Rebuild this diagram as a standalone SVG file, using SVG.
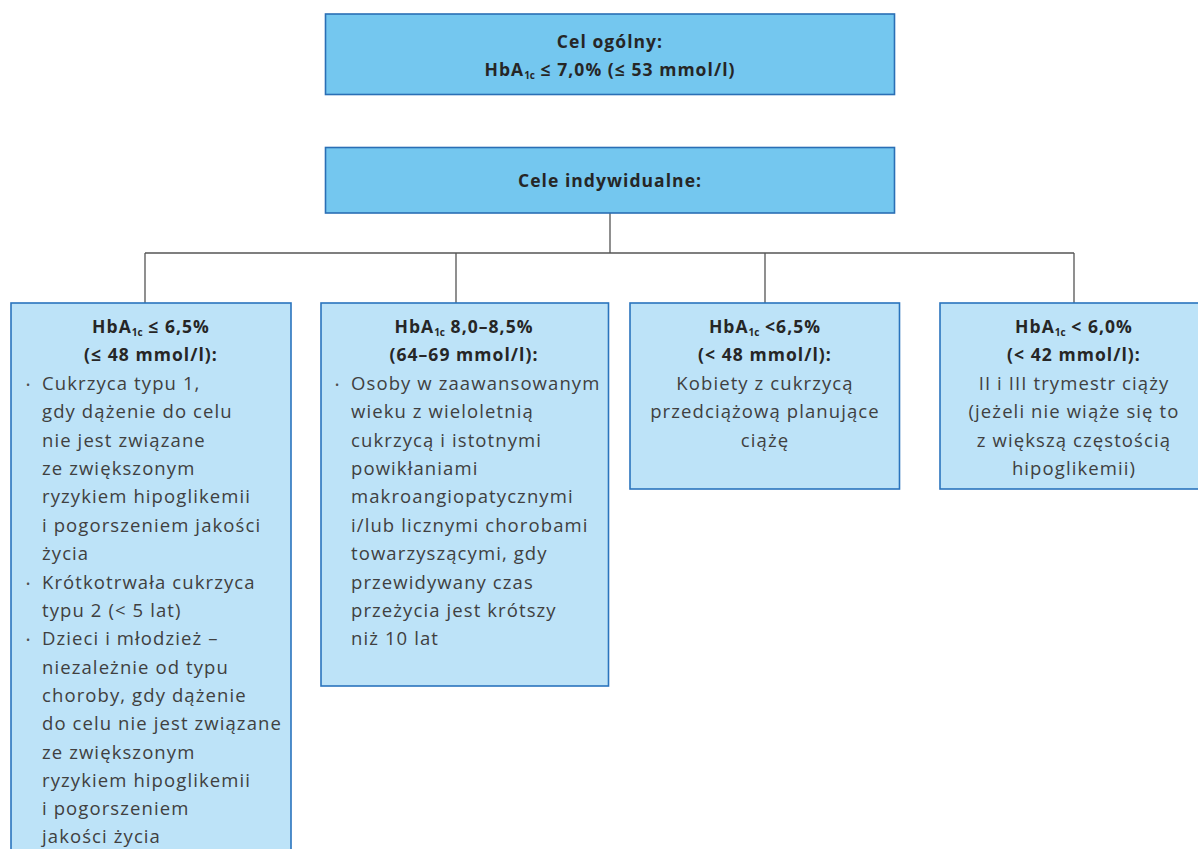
<svg xmlns="http://www.w3.org/2000/svg" width="1198" height="849" viewBox="0 0 1198 849">
<style>
.top{fill:#74c7ef;stroke:#2a6fb5;stroke-width:1.6}
.low{fill:#bde3f8;stroke:#2a74bd;stroke-width:1.6}
.con{fill:none;stroke:#555;stroke-width:1.3}
text{font-family:"Open Sans","DejaVu Sans",sans-serif;font-size:18.5px;letter-spacing:1.1px}
.h{font-weight:bold;fill:#262626;text-anchor:middle;font-size:17.5px;letter-spacing:1.05px}
.b{fill:#404040}
.c{fill:#404040;text-anchor:middle}
.s{font-size:10px;letter-spacing:0}
.bul{font-size:11px;fill:#505050;letter-spacing:0}
</style>
<rect width="1198" height="849" fill="#fff"/>
<g id="connectors">
<path class="con" d="M610 213V253M145 253H1074M145 253V303M456 253V303M765 253V303M1074 253V303"/>
</g>
<g id="node-general">
<rect class="top" x="325.5" y="14" width="569" height="80.5"/>
<text class="h" x="610" y="48">Cel ogólny:</text>
<text class="h" x="610" y="76">HbA<tspan class="s" dy="3">1c</tspan><tspan dy="-3"> ≤ 7,0% (≤ 53 mmol/l)</tspan></text>
</g>
<g id="node-individual">
<rect class="top" x="325.5" y="147.5" width="569" height="65.5"/>
<text class="h" x="610" y="187">Cele indywidualne:</text>
</g>
<g id="node-1">
<rect class="low" x="11" y="303" width="280" height="560"/>
<text class="h" x="151" y="333">HbA<tspan class="s" dy="3">1c</tspan><tspan dy="-3"> ≤ 6,5%</tspan></text>
<text class="h" x="151" y="361">(≤ 48 mmol/l):</text>
<text class="bul" x="26" y="389">•</text>
<text class="b" x="42" y="390">Cukrzyca typu 1,</text>
<text class="b" x="42" y="418">gdy dążenie do celu</text>
<text class="b" x="42" y="447">nie jest związane</text>
<text class="b" x="42" y="475">ze zwiększonym</text>
<text class="b" x="42" y="503">ryzykiem hipoglikemii</text>
<text class="b" x="42" y="532">i pogorszeniem jakości</text>
<text class="b" x="42" y="560">życia</text>
<text class="bul" x="26" y="588">•</text>
<text class="b" x="42" y="589">Krótkotrwała cukrzyca</text>
<text class="b" x="42" y="617">typu 2 (&lt; 5 lat)</text>
<text class="bul" x="26" y="644">•</text>
<text class="b" x="42" y="645">Dzieci i młodzież –</text>
<text class="b" x="42" y="674">niezależnie od typu</text>
<text class="b" x="42" y="702">choroby, gdy dążenie</text>
<text class="b" x="42" y="730">do celu nie jest związane</text>
<text class="b" x="42" y="759">ze zwiększonym</text>
<text class="b" x="42" y="787">ryzykiem hipoglikemii</text>
<text class="b" x="42" y="815">i pogorszeniem</text>
<text class="b" x="42" y="843">jakości życia</text>
</g>
<g id="node-2">
<rect class="low" x="321" y="303" width="287.5" height="383"/>
<text class="h" x="464" y="333">HbA<tspan class="s" dy="3">1c</tspan><tspan dy="-3"> 8,0–8,5%</tspan></text>
<text class="h" x="464" y="361">(64–69 mmol/l):</text>
<text class="bul" x="335" y="389">•</text>
<text class="b" x="351" y="390">Osoby w zaawansowanym</text>
<text class="b" x="351" y="418">wieku z wieloletnią</text>
<text class="b" x="351" y="447">cukrzycą i istotnymi</text>
<text class="b" x="351" y="475">powikłaniami</text>
<text class="b" x="351" y="503">makroangiopatycznymi</text>
<text class="b" x="351" y="532">i/lub licznymi chorobami</text>
<text class="b" x="351" y="560">towarzyszącymi, gdy</text>
<text class="b" x="351" y="589">przewidywany czas</text>
<text class="b" x="351" y="617">przeżycia jest krótszy</text>
<text class="b" x="351" y="645">niż 10 lat</text>
</g>
<g id="node-3">
<rect class="low" x="630" y="303" width="269.5" height="186"/>
<text class="h" x="765" y="333">HbA<tspan class="s" dy="3">1c</tspan><tspan dy="-3"> &lt;6,5%</tspan></text>
<text class="h" x="765" y="361">(&lt; 48 mmol/l):</text>
<text class="c" x="765" y="390">Kobiety z cukrzycą</text>
<text class="c" x="765" y="418">przedciążową planujące</text>
<text class="c" x="765" y="447">ciążę</text>
</g>
<g id="node-4">
<rect class="low" x="940" y="303" width="270" height="186"/>
<text class="h" x="1074" y="333">HbA<tspan class="s" dy="3">1c</tspan><tspan dy="-3"> &lt; 6,0%</tspan></text>
<text class="h" x="1074" y="361">(&lt; 42 mmol/l):</text>
<text class="c" x="1074" y="390">II i III trymestr ciąży</text>
<text class="c" x="1074" y="418">(jeżeli nie wiąże się to</text>
<text class="c" x="1074" y="447">z większą częstością</text>
<text class="c" x="1074" y="475">hipoglikemii)</text>
</g>
</svg>
